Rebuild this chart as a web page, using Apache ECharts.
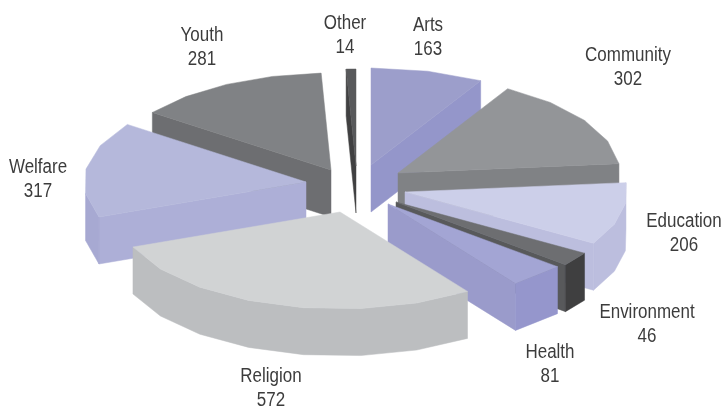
<!DOCTYPE html>
<html>
<head>
<meta charset="utf-8">
<style>
  html, body { margin: 0; padding: 0; background: #fff; }
  #chart { width: 724px; height: 410px; }
</style>
<script src="https://cdn.jsdelivr.net/npm/echarts@6/dist/echarts.min.js"></script>
</head>
<body>
<div id="chart"></div>
<script>
var categories = ['Arts', 'Community', 'Education', 'Environment', 'Health', 'Religion', 'Welfare', 'Youth', 'Other'];
var values = [163, 302, 206, 46, 81, 572, 317, 281, 14];

// top face, radial side face, rim
var topColors = ['#9c9ecb', '#939598', '#cccfe9', '#6d6e71', '#a3a5d4', '#d1d3d4', '#b5b8db', '#808285', '#58595b'];
var sideColors = ['#9496ca', '#808285', '#bcbede', '#58595b', '#9a9bcb', '#bcbec0', '#adafd7', '#6d6e71', '#404041'];
var rimColors = ['#9496ca', '#808285', '#bcbede', '#3f3f40', '#9596cc', '#bcbec0', '#a7a9d2', '#6d6e71', '#404041'];

// how far each slice is pulled out of the pie
var explodeX = [11, 38, 45, 36, 28, -20, -54, -29, -4];
var explodeY = [-21, -13, 6, 16, 18, 26, -4, -16, -20];

var labelX = [428, 628, 684, 647, 550, 271, 38, 202, 345];
var labelY = [38, 68, 234, 325, 365, 389, 180, 48, 36];

var centerX = 360, centerY = 186;
var radiusX = 222, radiusY = 97, depth = 47;
var segmentDeg = 15;

var total = values.reduce(function (a, b) { return a + b; }, 0);

// angle range of each slice, clockwise from the top
var slices = [];
var running = 0;
categories.forEach(function (name, i) {
    var start = running / total * 360;
    running += values[i];
    slices.push({ index: i, start: start, end: running / total * 360 });
});

// painter's order, slices at the back first
var drawOrder = slices.slice().sort(function (a, b) {
    var midA = (a.start + a.end) / 2 * Math.PI / 180;
    var midB = (b.start + b.end) / 2 * Math.PI / 180;
    return Math.cos(midB) - Math.cos(midA);
});

function rimPoint(ax, ay, deg, drop) {
    var t = deg * Math.PI / 180;
    return [ax + radiusX * Math.sin(t), ay - radiusY * Math.cos(t) + drop];
}

function face(points, color) {
    return {
        type: 'polygon',
        shape: { points: points },
        style: { fill: color, stroke: color, lineWidth: 0.5 }
    };
}

function renderSlice(params, api) {
    var i = api.value(0);
    var s = slices[i];
    var ax = centerX + explodeX[i];
    var ay = centerY + explodeY[i];
    var n = Math.ceil((s.end - s.start) / segmentDeg);
    var children = [];
    var angles = [];
    for (var k = 0; k <= n; k++) {
        angles.push(s.start + (s.end - s.start) * k / n);
    }

    // radial cut faces that look toward the viewer
    [[s.start, s.start - 90], [s.end, s.end + 90]].forEach(function (f) {
        if (Math.cos(f[1] * Math.PI / 180) < 0) {
            children.push(face([
                [ax, ay],
                rimPoint(ax, ay, f[0], 0),
                rimPoint(ax, ay, f[0], depth),
                [ax, ay + depth]
            ], sideColors[i]));
        }
    });

    // outer rim, one polygon over the segments facing the viewer
    var upper = [], lower = [];
    for (k = 0; k < n; k++) {
        var mid = (angles[k] + angles[k + 1]) / 2 * Math.PI / 180;
        if (Math.cos(mid) < 0) {
            if (!upper.length) {
                upper.push(rimPoint(ax, ay, angles[k], 0));
                lower.push(rimPoint(ax, ay, angles[k], depth));
            }
            upper.push(rimPoint(ax, ay, angles[k + 1], 0));
            lower.push(rimPoint(ax, ay, angles[k + 1], depth));
        }
    }
    if (upper.length) {
        children.push(face(upper.concat(lower.reverse()), rimColors[i]));
    }

    // top face
    var topPoints = [[ax, ay]];
    angles.forEach(function (a) { topPoints.push(rimPoint(ax, ay, a, 0)); });
    children.push(face(topPoints, topColors[i]));

    return { type: 'group', children: children };
}

function renderLabel(params, api) {
    var i = api.value(0);
    return {
        type: 'text',
        x: labelX[i],
        y: labelY[i],
        scaleX: 0.87,
        style: {
            x: 0,
            y: 0,
            text: categories[i] + '\n' + values[i],
            fill: '#3c3c3c',
            font: '19.5px "Liberation Sans", sans-serif',
            lineHeight: 24,
            align: 'center',
            verticalAlign: 'middle'
        }
    };
}

var myChart = echarts.init(document.getElementById('chart'), null, { renderer: 'canvas' });
myChart.setOption({
    animation: false,
    backgroundColor: '#ffffff',
    series: [
        {
            type: 'custom',
            coordinateSystem: 'none',
            renderItem: renderSlice,
            data: drawOrder.map(function (s) { return [s.index, values[s.index]]; })
        },
        {
            type: 'custom',
            coordinateSystem: 'none',
            renderItem: renderLabel,
            data: categories.map(function (c, i) { return [i, values[i]]; })
        }
    ]
});
</script>
</body>
</html>
